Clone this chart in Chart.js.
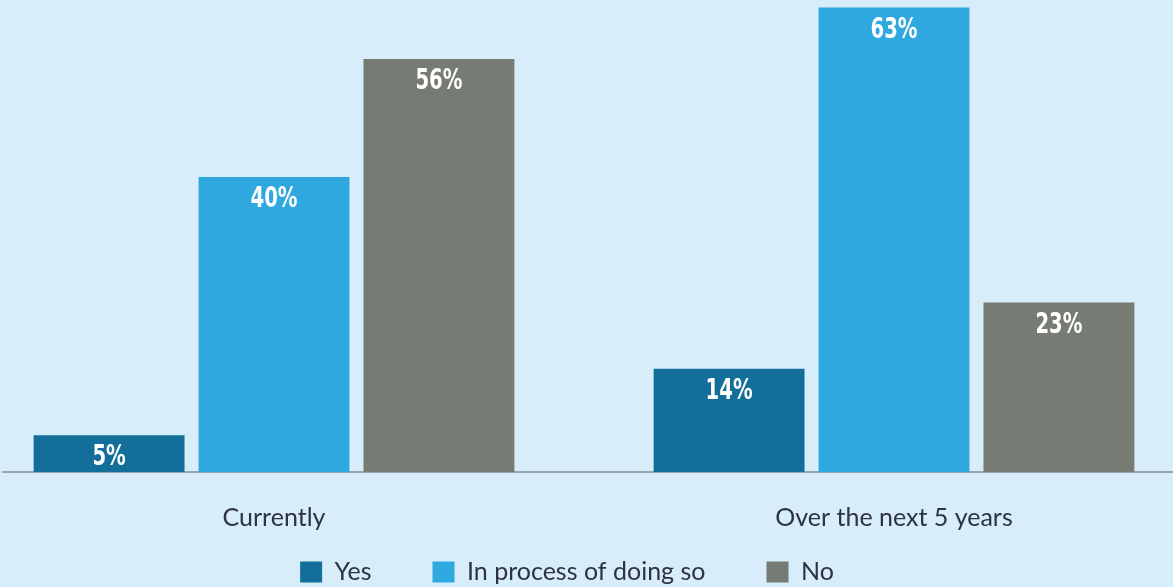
<!DOCTYPE html>
<html>
<head>
<meta charset="utf-8">
<script src="https://cdn.jsdelivr.net/npm/chart.js@4.4.0/dist/chart.umd.min.js"></script>
<style>
  html,body{margin:0;padding:0;background:#d7edf9;}
</style>
</head>
<body>
<canvas id="myChart" width="1173" height="587"></canvas>
<script>
// datos de la grafica
const categorias=['Currently','Over the next 5 years']
const series=['Yes','In process of doing so','No']
const si=[5,14]
const en_proceso=[40,63]
const no=[56,23]

const colores=['#136f9a','#2ea8df','#767b73']
const texto_color='#2e3242'

// linea base gris que cruza todo el ancho
const linea_base={
  id:'linea_base',
  beforeDatasetsDraw(chart){
    const ctx=chart.ctx
    const y=chart.scales.y.getPixelForValue(0)
    ctx.save()
    ctx.strokeStyle='#9ba4a9'
    ctx.lineWidth=2
    ctx.beginPath()
    ctx.moveTo(2,y)
    ctx.lineTo(chart.width,y)
    ctx.stroke()
    ctx.restore()
  }
}

// el eje x queda bajito para que la leyenda suba, pero sus textos necesitan mas alto
const eje_x_alto={
  id:'eje_x_alto',
  afterLayout(chart){
    const x=chart.scales.x
    x.bottom=x.top+70
    x.height=70
  }
}

// porcentaje dentro de cada barra (letra angosta)
const etiquetas={
  id:'etiquetas',
  afterDatasetsDraw(chart){
    const ctx=chart.ctx
    chart.data.datasets.forEach((ds,i)=>{
      chart.getDatasetMeta(i).data.forEach((barra,j)=>{
        const medio=(barra.y+barra.base)/2
        const y=Math.min(barra.y+23,medio+4)
        ctx.save()
        ctx.fillStyle='#ffffff'
        ctx.font='bold 28px "DejaVu Sans Condensed", "DejaVu Sans", sans-serif'
        ctx.textAlign='center'
        ctx.textBaseline='middle'
        ctx.translate(barra.x,y)
        ctx.scale(0.78,1)
        ctx.fillText(ds.data[j]+'%',0,0)
        ctx.restore()
      })
    })
  }
}

function grafico(){
  const ctx=document.getElementById('myChart')
  const valores=[si,en_proceso,no]

  const conjuntos=series.map((nombre,i)=>({
    label:nombre,
    data:valores[i],
    backgroundColor:colores[i],
    borderWidth:0,
    clip:false,
    categoryPercentage:0.798,
    barPercentage:0.915
  }))

  new Chart(ctx,{
    type:'bar',
    data:{labels:categorias,datasets:conjuntos},
    options:{
      responsive:false,
      animation:false,
      layout:{padding:{left:0,right:39,top:0,bottom:-7.5}},
      scales:{
        x:{
          offset:false,
          grid:{display:false,drawTicks:false},
          border:{display:false},
          ticks:{color:texto_color,font:{family:'Lato',size:25},padding:31},
          afterFit(s){ s.height=26.5 }
        },
        y:{
          min:0,max:64,
          grid:{display:false,drawTicks:false},
          border:{display:false},
          ticks:{display:false},
          afterFit(s){ s.width=274 }
        },
        y2:{
          type:'linear',position:'right',
          grid:{display:false,drawTicks:false},
          border:{display:false},
          ticks:{display:false},
          afterFit(s){ s.width=240 }
        }
      },
      plugins:{
        tooltip:{enabled:false},
        legend:{
          position:'bottom',
          labels:{
            boxWidth:22,boxHeight:21,padding:61,
            color:texto_color,
            font:{family:'Lato',size:25}
          }
        }
      }
    },
    plugins:[linea_base,eje_x_alto,etiquetas]
  })
}

grafico()
</script>
</body>
</html>
